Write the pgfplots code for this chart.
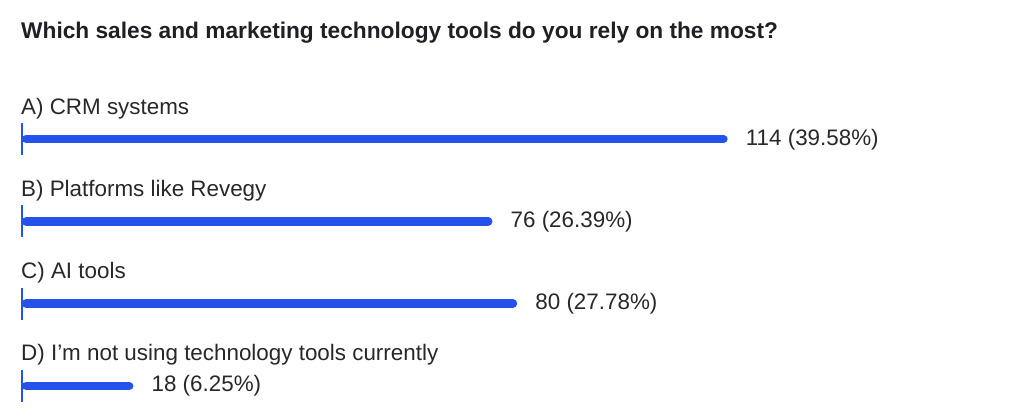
\documentclass[border=0pt]{standalone}
\usepackage{fontspec}
\setmainfont{Liberation Sans}
\usepackage{pgfplots}
\usepackage{pgfplotstable}
\pgfplotsset{compat=1.18}
\definecolor{barblue}{RGB}{36,82,235}
\definecolor{txt}{RGB}{40,40,42}
\definecolor{ttl}{RGB}{30,32,38}

\pgfplotstableread[col sep=comma, row sep=\\]{
idx,value,cat,val\\
0,114,A) CRM systems,114 (39.58\%)\\
1,76,B) Platforms like Revegy,76 (26.39\%)\\
2,80,C) AI tools,80 (27.78\%)\\
3,18,D) I’m not using technology tools currently,18 (6.25\%)\\
}\datatable

\begin{document}
\begin{tikzpicture}
\begin{axis}[
  at={(0,0)}, anchor=south west,
  width=1024bp, height=418bp, scale only axis,
  xmin=-3.554, xmax=161.87, ymin=-1.689, ymax=3.390, y dir=reverse,
  hide axis, clip=false,
  tick/.style={color=barblue, line width=2.6bp, mark=none, line cap=butt},
  bar/.style={color=barblue, line width=8.5bp, mark=none, line cap=round, shorten <=4.25bp, shorten >=4.25bp},
]
\path (axis cs:-3.554,-1.689) rectangle (axis cs:161.87,3.390);

% baseline ticks
\addplot[tick] coordinates {(0,-0.194) (0,0.194)};
\addplot[tick] coordinates {(0,0.806) (0,1.194)};
\addplot[tick] coordinates {(0,1.806) (0,2.194)};
\addplot[tick] coordinates {(0,2.806) (0,3.194)};

% bars
\addplot[bar] coordinates {(0,0) (114,0)};
\addplot[bar] coordinates {(0,1) (76,1)};
\addplot[bar] coordinates {(0,2) (80,2)};
\addplot[bar] coordinates {(0,3) (18,3)};

% category labels
\addplot[draw=none, mark=none, nodes near coords, point meta=explicit symbolic,
  nodes near coords style={anchor=base west, yshift=25bp, xshift=-1bp, inner sep=0pt,
    font=\fontsize{22.4bp}{27bp}\selectfont, text=txt}]
  table[x expr=0, y=idx, meta=cat] \datatable;

% value labels
\addplot[draw=none, mark=none, nodes near coords, point meta=explicit symbolic,
  nodes near coords style={anchor=base west, yshift=-6bp, xshift=18bp, inner sep=0pt,
    font=\fontsize{22.4bp}{27bp}\selectfont, text=txt}]
  table[x=value, y=idx, meta=val] \datatable;

\node[anchor=base west, inner sep=0pt, text=ttl, font=\bfseries\fontsize{22.7bp}{27bp}\selectfont]
  at (axis cs:-0.16,-1.227) {Which sales and marketing technology tools do you rely on the most?};
\end{axis}
\end{tikzpicture}
\end{document}
